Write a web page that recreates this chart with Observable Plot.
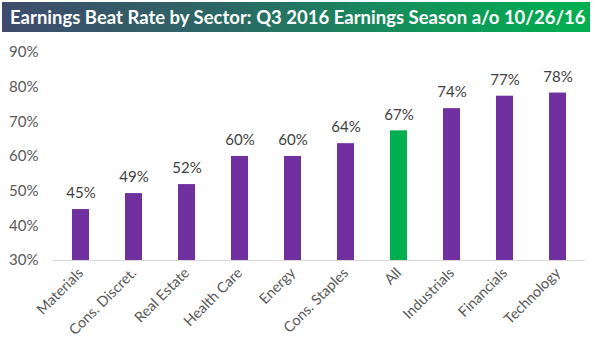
<!DOCTYPE html>
<html>
<head>
<meta charset="utf-8">
<script src="https://cdn.jsdelivr.net/npm/d3@7"></script>
<script src="https://cdn.jsdelivr.net/npm/@observablehq/plot@0.6"></script>
<style>
  html, body { margin: 0; padding: 0; background: #fff; }
  #wrap { width: 593px; height: 351px; position: relative; overflow: hidden; }
  #title {
    position: absolute; left: 2px; top: 2px; width: 588px; height: 30px;
    background: linear-gradient(to right, #3f4a6c 0%, #2a6a64 40%, #13915a 70%, #00b050 100%);
    color: #fff; font-family: Lato, "Open Sans", sans-serif; font-weight: bold;
    font-size: 18.5px; line-height: 30px; padding-left: 8px; box-sizing: border-box;
    white-space: nowrap;
  }
  #chart { position: absolute; left: 0; top: 34px; }
</style>
</head>
<body>
<div id="wrap">
  <div id="title">Earnings Beat Rate by Sector: Q3 2016 Earnings Season a/o 10/26/16</div>
  <div id="chart"></div>
</div>
<script>
const sectors = ["Materials", "Cons. Discret.", "Real Estate", "Health Care", "Energy", "Cons. Staples", "All", "Industrials", "Financials", "Technology"];
const beatRates = [44.7, 49.3, 51.9, 60.0, 60.0, 63.7, 67.4, 73.8, 77.4, 78.3];
const yTicks = [30, 40, 50, 60, 70, 80, 90];
const highlight = "All";

const data = sectors.map((s, i) => ({sector: s, value: beatRates[i]}));

const chart = Plot.plot({
  width: 593,
  height: 317,
  marginTop: 18,
  marginBottom: 91,
  marginLeft: 53,
  marginRight: 8,
  style: {fontFamily: "Lato, 'Open Sans', sans-serif", fontSize: "13px", color: "#595959", background: "transparent"},
  x: {domain: sectors, paddingInner: 0.68, paddingOuter: 0.34, label: null},
  y: {domain: [30, 90], label: null},
  marks: [
    Plot.barY(data, {x: "sector", y1: 30, y2: "value", fill: d => d.sector === highlight ? "#00b050" : "#7030a0"}),
    Plot.ruleY([30], {stroke: "#d9d9d9", strokeWidth: 1}),
    Plot.text(data, {x: "sector", y: "value", text: d => Math.round(d.value) + "%", dy: -16, fill: "#404040", fontSize: 15}),
    Plot.axisY({ticks: yTicks, tickFormat: d => d + "%", tickSize: 0, tickPadding: 15, fill: "#595959", fontSize: 15}),
    Plot.axisX({tickSize: 0, tickPadding: 10, tickRotate: -45, fill: "#595959", fontSize: 14.5})
  ]
});
document.getElementById("chart").appendChild(chart);
</script>
</body>
</html>
